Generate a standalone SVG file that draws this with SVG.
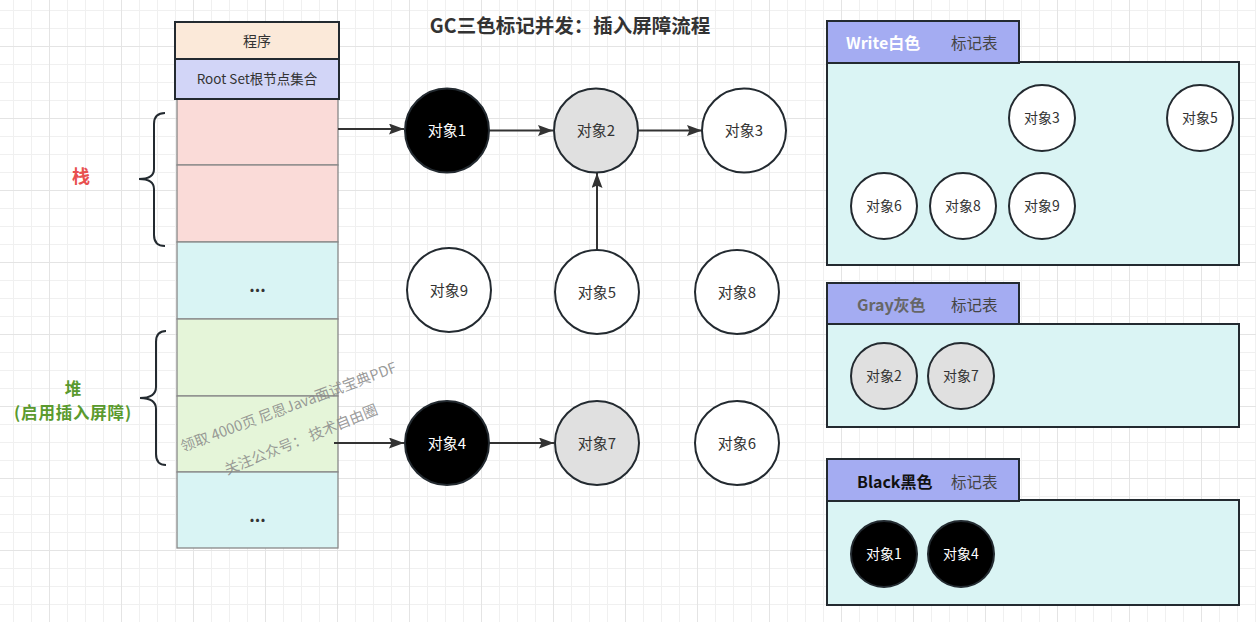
<svg xmlns="http://www.w3.org/2000/svg" width="1256" height="622" viewBox="0 0 1256 622">
<defs>
<pattern id="gminor" patternUnits="userSpaceOnUse" x="13" y="10" width="18" height="18">
<path d="M0.5,0 V18 M0,0.5 H18" fill="none" stroke="#f0f0f0" stroke-width="1"/>
</pattern>
<pattern id="gmajor" patternUnits="userSpaceOnUse" x="49" y="46" width="72" height="72">
<path d="M0.5,0 V72 M0,0.5 H72" fill="none" stroke="#e4e4e4" stroke-width="1"/>
</pattern>
<marker id="arr" markerUnits="userSpaceOnUse" markerWidth="15" markerHeight="11" refX="15" refY="5.5" orient="auto">
<path d="M0,0 L15,5.5 L0,11 L2.5,5.5 Z" fill="#333"/>
</marker>
</defs>
<style>
text{font-family:"Noto Sans CJK SC","Microsoft YaHei",sans-serif;}
.cell{stroke:#888;stroke-width:1.3;}
.box{stroke:#232a30;stroke-width:2;}
.nd{stroke:#232a30;stroke-width:2;}
.wh{fill:#ffffff;}
.gr{fill:#e0e0e0;}
.bk{fill:#000000;}
.t15{font-size:15px;text-anchor:middle;fill:#333;}
.t14{font-size:14px;text-anchor:middle;fill:#333;}
.tw{fill:#ffffff;}
.tab{fill:#a4acf2;stroke:#232a30;stroke-width:2;}
.panel{fill:#daf4f4;stroke:#232a30;stroke-width:2;}
.conn{stroke:#333;stroke-width:2;fill:none;marker-end:url(#arr);}
.brace{stroke:#232a30;stroke-width:2;fill:none;}
.tt{font-size:15.5px;fill:#444;}
.dots{font-size:17px;text-anchor:middle;fill:#333;font-weight:bold;}
.heap{font-size:16.5px;font-weight:bold;fill:#5a9a2e;text-anchor:middle;}
</style>
<rect width="1256" height="622" fill="#ffffff"/>
<rect width="1256" height="622" fill="url(#gminor)"/>
<rect width="1256" height="622" fill="url(#gmajor)"/>

<text x="570" y="33" font-size="19.5" font-weight="bold" fill="#333" text-anchor="middle">GC三色标记并发：插入屏障流程</text>

<g id="stack-column">
<rect class="cell" x="177" y="99" width="161" height="66" fill="#fadbd8"/>
<rect class="cell" x="177" y="165" width="161" height="77" fill="#fadbd8"/>
<rect class="cell" x="177" y="242" width="161" height="77" fill="#d9f4f4"/>
<text class="dots" x="257.5" y="292">...</text>
<rect class="cell" x="177" y="319" width="161" height="77" fill="#e5f5d9"/>
<rect class="cell" x="177" y="396" width="161" height="76" fill="#e5f5d9"/>
<rect class="cell" x="177" y="472" width="161" height="76" fill="#d9f4f4"/>
<text class="dots" x="257.5" y="522">...</text>
</g>
<g id="program">
<rect class="box" x="175" y="22" width="164" height="37" fill="#fbe9d9"/>
<text class="t14" x="257" y="46">程序</text>
</g>
<g id="rootset">
<rect class="box" x="175" y="59" width="164" height="40" fill="#d2d5f7"/>
<text x="257" y="84" font-size="13.5" text-anchor="middle" fill="#333">Root Set根节点集合</text>
</g>

<g id="brace-stack">
<path class="brace" d="M165,113 Q154,113 154,124 L154,169 Q154,179 139,179 Q154,179 154,189 L154,235 Q154,246 165,246"/>
<text x="81" y="183" font-size="18" font-weight="bold" fill="#e85050" text-anchor="middle">栈</text>
</g>
<g id="brace-heap">
<path class="brace" d="M166,331 Q156,331 156,342 L156,387 Q156,398 140,398 Q156,398 156,409 L156,454 Q156,465 166,465"/>
<text class="heap" x="73" y="395">堆</text>
<text class="heap" x="73" y="419" letter-spacing="0.8">(启用插入屏障)</text>
</g>

<g id="connectors">
<line class="conn" x1="338" y1="129" x2="404" y2="129"/>
<line class="conn" x1="489" y1="130.5" x2="553" y2="130.5"/>
<line class="conn" x1="639" y1="130.5" x2="702" y2="130.5"/>
<line class="conn" x1="597" y1="250" x2="597" y2="173"/>
<line class="conn" x1="334" y1="443" x2="404" y2="443"/>
<line class="conn" x1="489" y1="443" x2="554" y2="443"/>
</g>

<g id="obj1"><circle class="nd bk" cx="447" cy="130.5" r="42"/><text class="t15 tw" x="447" y="136">对象1</text></g>
<g id="obj2"><circle class="nd gr" cx="596" cy="130.5" r="42"/><text class="t15" x="596" y="136">对象2</text></g>
<g id="obj3"><circle class="nd wh" cx="744" cy="130.5" r="42"/><text class="t15" x="744" y="136">对象3</text></g>
<g id="obj9"><circle class="nd wh" cx="449" cy="290" r="42"/><text class="t15" x="449" y="295.5">对象9</text></g>
<g id="obj5"><circle class="nd wh" cx="597" cy="292" r="42"/><text class="t15" x="597" y="297.5">对象5</text></g>
<g id="obj8"><circle class="nd wh" cx="737" cy="292" r="42"/><text class="t15" x="737" y="297.5">对象8</text></g>
<g id="obj4"><circle class="nd bk" cx="447" cy="443" r="42"/><text class="t15 tw" x="447" y="448.5">对象4</text></g>
<g id="obj7"><circle class="nd gr" cx="597" cy="443" r="42"/><text class="t15" x="597" y="448.5">对象7</text></g>
<g id="obj6"><circle class="nd wh" cx="737" cy="443" r="42"/><text class="t15" x="737" y="448.5">对象6</text></g>

<g id="white-table">
<rect class="panel" x="827" y="62" width="412" height="203"/>
<rect class="tab" x="827" y="21" width="192" height="42"/>
<text x="846" y="49" font-size="16" font-weight="bold" fill="#ffffff">Write白色</text>
<text class="tt" x="951" y="49">标记表</text>
<g id="w-obj3"><circle class="nd wh" cx="1042" cy="118" r="33"/><text class="t14" x="1042" y="123">对象3</text></g>
<g id="w-obj5"><circle class="nd wh" cx="1200" cy="118" r="33"/><text class="t14" x="1200" y="123">对象5</text></g>
<g id="w-obj6"><circle class="nd wh" cx="884" cy="206" r="33"/><text class="t14" x="884" y="211">对象6</text></g>
<g id="w-obj8"><circle class="nd wh" cx="963" cy="206" r="33"/><text class="t14" x="963" y="211">对象8</text></g>
<g id="w-obj9"><circle class="nd wh" cx="1042" cy="206" r="33"/><text class="t14" x="1042" y="211">对象9</text></g>
</g>

<g id="gray-table">
<rect class="panel" x="827" y="324" width="412" height="103"/>
<rect class="tab" x="827" y="283" width="192" height="41"/>
<text x="857" y="311" font-size="16" font-weight="bold" fill="#666666">Gray灰色</text>
<text class="tt" x="951" y="311">标记表</text>
<g id="g-obj2"><circle class="nd gr" cx="884" cy="376" r="33"/><text class="t14" x="884" y="381">对象2</text></g>
<g id="g-obj7"><circle class="nd gr" cx="961" cy="376" r="33"/><text class="t14" x="961" y="381">对象7</text></g>
</g>

<g id="black-table">
<rect class="panel" x="827" y="500" width="412" height="105"/>
<rect class="tab" x="827" y="459" width="192" height="42"/>
<text x="857" y="487.5" font-size="16" font-weight="bold" fill="#111111">Black黑色</text>
<text class="tt" x="951" y="487.5">标记表</text>
<g id="b-obj1"><circle class="nd bk" cx="884" cy="554" r="33"/><text class="t14 tw" x="884" y="559">对象1</text></g>
<g id="b-obj4"><circle class="nd bk" cx="961" cy="554" r="33"/><text class="t14 tw" x="961" y="559">对象4</text></g>
</g>

<g id="watermark" fill="#888" fill-opacity="0.85" font-size="14.6">
<text x="183" y="452" transform="rotate(-20.5 183 452)">领取 4000页 尼恩Java面试宝典PDF</text>
<text x="227" y="475" transform="rotate(-22 227 475)">关注公众号：  技术自由圈</text>
</g>
</svg>
